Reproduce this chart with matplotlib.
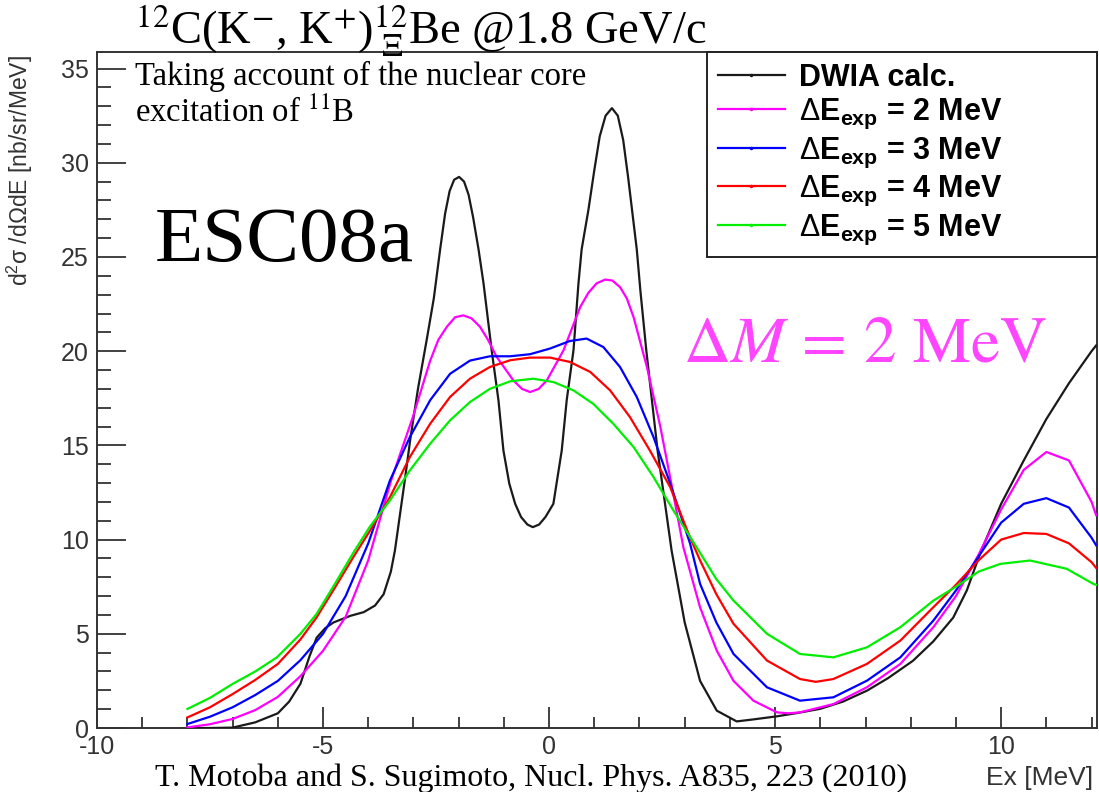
import numpy as np
import matplotlib
matplotlib.use("Agg")
import matplotlib.pyplot as plt
from matplotlib.lines import Line2D
from matplotlib.ticker import MultipleLocator

plt.rcParams['axes.unicode_minus'] = False
plt.rcParams['mathtext.fontset'] = 'custom'
plt.rcParams['mathtext.rm'] = 'Liberation Sans'
plt.rcParams['mathtext.it'] = 'Liberation Sans:italic'
plt.rcParams['mathtext.bf'] = 'Liberation Sans:bold'
plt.rcParams['mathtext.sf'] = 'Liberation Sans'
plt.rcParams['font.family'] = ['Liberation Sans', 'DejaVu Sans']

# DWIA calculation (no resolution smearing)
dwia_x = [-8.0, -7.5, -7.0, -6.5, -6.0, -5.75, -5.5, -5.3, -5.14, -4.95, -4.77,
          -4.4, -4.1, -3.85, -3.66, -3.5, -3.41, -3.3, -3.2, -3.06, -2.9, -2.7,
          -2.55, -2.41, -2.3, -2.2, -2.1, -1.99, -1.88, -1.78, -1.68, -1.56,
          -1.45, -1.27, -1.12, -1.01, -0.88, -0.75, -0.62, -0.48, -0.36,
          -0.22, -0.08, 0.095, 0.28, 0.39, 0.54, 0.65, 0.72, 0.87, 1.0, 1.12,
          1.25, 1.39, 1.52, 1.64, 1.75, 1.85, 1.94, 2.02, 2.15, 2.4, 2.71,
          3.0, 3.34, 3.71, 4.15, 4.5, 5.04, 5.5, 6.0, 6.5, 7.03, 7.5, 8.05,
          8.5, 8.94, 9.24, 9.54, 10.0, 10.5, 11.0, 11.5, 12.0, 12.1]
dwia_y = [0.0, 0.0, 0.02, 0.3, 0.78, 1.4, 2.35, 3.8, 4.8, 5.3, 5.6,
          5.95, 6.15, 6.5, 7.1, 8.3, 9.42, 11.3, 13.0, 15.5, 18.0, 20.7,
          22.8, 25.4, 27.3, 28.5, 29.1, 29.25, 29.0, 28.3, 27.1, 25.4,
          23.6, 20.05, 17.4, 14.73, 12.97, 11.9, 11.2, 10.8, 10.66,
          10.8, 11.2, 11.9, 14.73, 17.4, 20.05, 23.6, 25.4, 27.5, 29.6, 31.4,
          32.5, 32.9, 32.5, 31.2, 29.2, 27.2, 25.4, 23.2, 20.05, 14.73, 9.42,
          5.6, 2.5, 0.92, 0.35, 0.45, 0.62, 0.8, 1.02, 1.4, 1.98, 2.65, 3.57,
          4.6, 5.86, 7.3, 9.3, 11.9, 14.2, 16.4, 18.3, 20.0, 20.3]

# Folded with 2 MeV resolution
de2_x = [-8.0, -7.5, -7.0, -6.5, -6.0, -5.5, -5.0, -4.5, -4.0, -3.5, -3.0,
         -2.63, -2.45, -2.26, -2.08, -1.9, -1.72, -1.53, -1.35, -1.16, -0.79,
         -0.6, -0.42, -0.23, -0.05, 0.32, 0.69, 0.87, 1.05, 1.24, 1.4, 1.57,
         1.72, 1.87, 2.16, 2.46, 2.75, 2.97, 3.34, 3.71, 4.08, 4.52, 5.04,
         5.3, 5.55, 6.29, 7.03, 7.77, 8.5, 9.0, 9.5, 10.0, 10.5, 11.0, 11.5,
         12.0, 12.1]
de2_y = [0.03, 0.2, 0.48, 0.95, 1.65, 2.75, 4.1, 5.9, 8.9, 13.1, 16.6,
         19.5, 20.6, 21.3, 21.8, 21.9, 21.75, 21.3, 20.6, 19.7, 18.45,
         18.0, 17.83, 18.0, 18.45, 20.05, 22.35, 23.1, 23.6, 23.8, 23.75, 23.4,
         22.8, 21.8, 19.2, 16.0, 12.4, 9.6, 6.4, 4.1, 2.5, 1.45, 0.83,
         0.78, 0.83, 1.27, 2.16, 3.4, 5.35, 7.0, 9.2, 11.6, 13.7, 14.65, 14.2,
         12.0, 11.3]

# Folded with 3 MeV resolution
de3_x = [-8.0, -7.5, -7.0, -6.5, -6.0, -5.5, -5.0, -4.5, -4.0, -3.52, -3.08,
         -2.63, -2.19, -1.75, -1.31, -0.86, -0.42, 0.02, 0.46, 0.83, 1.2,
         1.57, 1.94, 2.31, 2.68, 3.12, 3.34, 3.7, 4.08, 4.82, 5.55, 6.29,
         7.03, 7.77, 8.5, 9.0, 9.5, 10.0, 10.5, 11.0, 11.5, 12.0, 12.1]
de3_y = [0.21, 0.6, 1.1, 1.75, 2.5, 3.6, 5.0, 7.0, 9.8, 13.14, 15.44,
         17.4, 18.8, 19.5, 19.73, 19.73, 19.84, 20.14, 20.54, 20.67, 20.22,
         19.16, 17.57, 15.44, 12.97, 9.78, 7.65, 5.6, 3.93, 2.16, 1.45, 1.63,
         2.51, 3.75, 5.7, 7.3, 9.1, 10.9, 11.9, 12.2, 11.7, 10.1, 9.7]

# Folded with 4 MeV resolution
de4_x = [-8.0, -7.5, -7.0, -6.5, -6.0, -5.5, -5.14, -4.75, -4.33, -3.96,
         -3.52, -3.08, -2.63, -2.19, -1.75, -1.31, -0.86, -0.42, 0.02, 0.46,
         0.91, 1.35, 1.79, 2.23, 2.68, 3.12, 3.34, 3.7, 4.08, 4.82, 5.55,
         5.9, 6.29, 7.03, 7.77, 8.5, 9.0, 9.5, 10.0, 10.5, 11.0, 11.5, 12.0,
         12.1]
de4_y = [0.56, 1.1, 1.8, 2.55, 3.4, 4.7, 5.88, 7.4, 9.07, 10.48,
         12.25, 14.38, 16.15, 17.57, 18.54, 19.16, 19.52, 19.66, 19.66, 19.43,
         18.9, 17.92, 16.5, 14.73, 12.78, 10.1, 8.9, 7.1, 5.53, 3.58, 2.6,
         2.45, 2.6, 3.4, 4.64, 6.41, 7.6, 8.9, 10.0, 10.35, 10.3, 9.8, 8.8,
         8.5]

# Folded with 5 MeV resolution
de5_x = [-8.0, -7.5, -7.0, -6.5, -6.02, -5.5, -5.14, -4.75, -4.33, -3.96,
         -3.52, -3.08, -2.63, -2.19, -1.75, -1.31, -0.86, -0.35, 0.1, 0.54,
         0.98, 1.42, 1.87, 2.31, 2.75, 3.34, 3.7, 4.08, 4.82, 5.55, 6.29,
         7.03, 7.77, 8.5, 9.0, 9.5, 9.98, 10.64, 11.45, 12.04, 12.1]
de5_y = [1.01, 1.6, 2.34, 3.0, 3.75, 5.0, 6.06, 7.6, 9.3, 10.7,
         12.08, 13.67, 15.09, 16.33, 17.3, 18.0, 18.4, 18.54, 18.36, 17.92,
         17.2, 16.15, 14.91, 13.32, 11.55, 9.3, 7.9, 6.76, 5.0, 3.93, 3.75,
         4.28, 5.35, 6.76, 7.5, 8.3, 8.71, 8.89, 8.45, 7.65, 7.6]

series = [
    (dwia_x, dwia_y, '#1a1a1a', 'DWIA calc.'),
    (de2_x, de2_y, '#ff00ff', r'$\Delta\mathbf{E}_{\mathbf{exp}}$ = 2 MeV'),
    (de3_x, de3_y, '#0000ff', r'$\Delta\mathbf{E}_{\mathbf{exp}}$ = 3 MeV'),
    (de4_x, de4_y, '#ff0000', r'$\Delta\mathbf{E}_{\mathbf{exp}}$ = 4 MeV'),
    (de5_x, de5_y, '#00ee00', r'$\Delta\mathbf{E}_{\mathbf{exp}}$ = 5 MeV'),
]

W, H = 1099, 792
fig = plt.figure(figsize=(W / 100, H / 100), dpi=100)
ax = fig.add_axes([97 / W, 64 / H, 1000 / W, 676 / H])

handles = []
for xs, ys, col, lab in series:
    ax.plot(xs, ys, color=col, lw=1.6, zorder=3)
    handles.append(Line2D([], [], color=col, lw=1.6, marker='.',
                          markersize=3, label=lab))

ax.set_xlim(-10, 12.12)
ax.set_ylim(0, 35.88)
ax.xaxis.set_major_locator(MultipleLocator(5))
ax.xaxis.set_minor_locator(MultipleLocator(1))
ax.yaxis.set_major_locator(MultipleLocator(5))
ax.yaxis.set_minor_locator(MultipleLocator(1))
ax.tick_params(which='both', direction='in', top=False, right=False,
               colors='#333333', width=1.3, labelsize=18)
ax.tick_params(axis='y', which='major', length=21, pad=6)
ax.tick_params(axis='y', which='minor', length=10)
ax.tick_params(axis='x', which='major', length=15, pad=5)
ax.tick_params(axis='x', which='minor', length=8)
for s in ax.spines.values():
    s.set_linewidth(1.4)
    s.set_color('#333333')

leg = ax.legend(handles=handles, loc='upper left',
                bbox_to_anchor=(0.61, 0.704, 0.39, 0.296), mode='expand',
                borderaxespad=0, fancybox=False, framealpha=1,
                edgecolor='#222222', borderpad=0.35, handlelength=2.2,
                handletextpad=0.45, labelspacing=0.14,
                prop={'family': 'Liberation Sans', 'weight': 'bold',
                      'size': 22})
leg.get_frame().set_linewidth(1.4)
leg.set_zorder(5)

# axis titles in ROOT style
fig.text(20 / W, 1 - 55 / H, r'd$^{2}$σ /dΩdE [nb/sr/MeV]', rotation=90,
         ha='center', va='top', fontsize=16.5, color='#333333')
fig.text(1093 / W, 1 - 785 / H, 'Ex [MeV]', ha='right', va='baseline',
         fontsize=19, color='#333333')

serif = ['Liberation Serif', 'DejaVu Serif']
fig.text(135 / W, 1 - 44 / H,
         r'$^{12}$C(K$^{-}$, K$^{+}$)$^{12}_{\ \Xi}$Be @1.8 GeV/c',
         family=serif, math_fontfamily='stix', fontsize=33.5, va='baseline')
fig.text(135 / W, 1 - 85 / H, 'Taking account of the nuclear core',
         family=serif, fontsize=23.5, va='baseline')
fig.text(135 / W, 1 - 122 / H, r'excitation of $^{11}$B',
         family=serif, math_fontfamily='stix', fontsize=23.5, va='baseline')
fig.text(155 / W, 1 - 261 / H, 'ESC08a', family=serif, fontsize=57,
         va='baseline')
fig.text(683 / W, 1 - 362 / H, r'$\Delta M\,=\,2\ \mathrm{MeV}$',
         math_fontfamily='stix', fontsize=47, color='#ff45ff',
         va='baseline')
fig.text(155 / W, 1 - 786 / H,
         'T. Motoba and S. Sugimoto, Nucl. Phys. A835, 223 (2010)',
         family=serif, fontsize=23, va='baseline')

fig.savefig('out.png', dpi=100)
